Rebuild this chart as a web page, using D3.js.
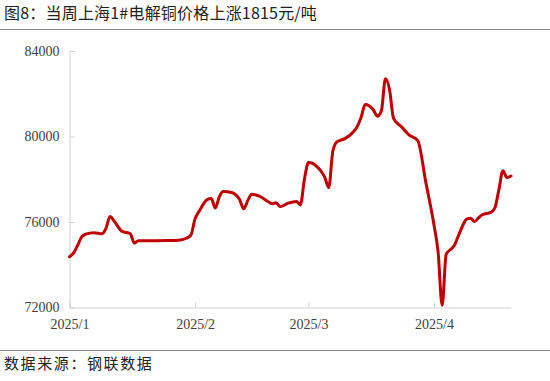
<!DOCTYPE html>
<html>
<head>
<meta charset="utf-8">
<script src="https://cdn.jsdelivr.net/npm/d3@7"></script>
<style>
  body { margin: 0; background: #fff; }
  svg { display: block; }
</style>
</head>
<body>
<svg width="550" height="381"></svg>
<script>
// 上海1#电解铜价格 (元/吨)
const dates = [
  '2025-01-01','2025-01-02','2025-01-03','2025-01-04','2025-01-05','2025-01-07','2025-01-09',
  '2025-01-10','2025-01-11','2025-01-12','2025-01-14','2025-01-15','2025-01-16','2025-01-17',
  '2025-01-18','2025-01-20','2025-01-25','2025-01-28','2025-01-30','2025-01-31','2025-02-01',
  '2025-02-02','2025-02-04','2025-02-05','2025-02-06','2025-02-07','2025-02-08','2025-02-10',
  '2025-02-12','2025-02-13','2025-02-14','2025-02-15','2025-02-17','2025-02-19','2025-02-20',
  '2025-02-21','2025-02-22','2025-02-24','2025-02-26','2025-02-27','2025-02-28','2025-03-01',
  '2025-03-02','2025-03-03','2025-03-04','2025-03-05','2025-03-06','2025-03-07','2025-03-08',
  '2025-03-10','2025-03-12','2025-03-13','2025-03-14','2025-03-15','2025-03-17','2025-03-18',
  '2025-03-19','2025-03-20','2025-03-21','2025-03-22','2025-03-24','2025-03-26','2025-03-27',
  '2025-03-28','2025-03-30','2025-04-01','2025-04-02','2025-04-03','2025-04-04','2025-04-05',
  '2025-04-06','2025-04-07','2025-04-08','2025-04-09','2025-04-10','2025-04-11','2025-04-12',
  '2025-04-13','2025-04-15','2025-04-16','2025-04-17','2025-04-18','2025-04-19','2025-04-20'
];
const prices = [
  74380, 74550, 74900, 75300, 75430, 75500, 75450,
  75700, 76260, 76050, 75560, 75510, 75450, 75010,
  75120, 75120, 75130, 75150, 75250, 75400, 76150,
  76500, 77050, 77100, 76650, 77190, 77430, 77380,
  77050, 76620, 77000, 77300, 77200, 76960, 76850,
  76900, 76720, 76880, 76960, 76800, 78000, 78780,
  78750, 78600, 78400, 78100, 77600, 79300, 79750,
  79900, 80200, 80450, 80900, 81500, 81250, 80950,
  81200, 82700, 82200, 80850, 80450, 80050, 79950,
  79800, 77830, 75850, 74600, 72100, 74500, 74700,
  74900, 75350, 75800, 76130, 76180, 76020, 76200,
  76350, 76450, 76650, 77500, 78400, 78080, 78150
];
const yTicks = [72000, 76000, 80000, 84000];
const xTicks = ['2025-01-01', '2025-02-01', '2025-03-01', '2025-04-01'];

const title = '图8：当周上海1#电解铜价格上涨1815元/吨';
const source = '数据来源：钢联数据';

const svg = d3.select('svg');
const width = +svg.attr('width');
const height = +svg.attr('height');

const parse = d3.timeParse('%Y-%m-%d');
const data = dates.map((d, i) => ({ date: parse(d), value: prices[i] }));

const x = d3.scaleTime()
  .domain([parse('2025-01-01'), parse('2025-04-20')])
  .range([69.5, 511]);

const y = d3.scaleLinear()
  .domain([72000, 84000])
  .range([307.5, 51]);

svg.append('rect').attr('width', width).attr('height', height).attr('fill', '#fff');

// title + rules
svg.append('text')
  .attr('x', 4).attr('y', 19)
  .attr('font-family', '"Noto Sans CJK SC", sans-serif')
  .attr('font-size', 16)
  .attr('letter-spacing', 0.2)
  .attr('fill', '#222')
  .text(title);

svg.append('line')
  .attr('x1', 0).attr('x2', width).attr('y1', 29.5).attr('y2', 29.5)
  .attr('stroke', '#8c8c8c').attr('stroke-width', 1);

svg.append('line')
  .attr('x1', 0).attr('x2', width).attr('y1', 350.5).attr('y2', 350.5)
  .attr('stroke', '#8c8c8c').attr('stroke-width', 1);

svg.append('text')
  .attr('x', 4).attr('y', 369)
  .attr('font-family', '"Noto Sans CJK SC", sans-serif')
  .attr('font-size', 15)
  .attr('letter-spacing', 1.6)
  .attr('fill', '#222')
  .text(source);

// axes
const yAxis = d3.axisLeft(y)
  .tickValues(yTicks)
  .tickSizeInner(-5)
  .tickSizeOuter(0)
  .tickPadding(10)
  .tickFormat(d3.format('d'));

const xAxis = d3.axisBottom(x)
  .tickValues(xTicks.map(parse))
  .tickSizeInner(-5)
  .tickSizeOuter(0)
  .tickPadding(12)
  .tickFormat(d3.timeFormat('%Y/%-m'));

const styleAxis = g => {
  g.select('.domain').attr('stroke', '#d0d0d0');
  g.selectAll('.tick line').attr('stroke', '#d0d0d0');
  g.selectAll('.tick text')
    .attr('font-family', '"Liberation Serif", "Times New Roman", serif')
    .attr('font-size', 14)
    .attr('fill', '#404040');
};

svg.append('g')
  .attr('transform', `translate(${x.range()[0]},0)`)
  .call(yAxis)
  .call(styleAxis);

svg.append('g')
  .attr('transform', `translate(0,${y.range()[0]})`)
  .call(xAxis)
  .call(styleAxis);

// line
const line = d3.line()
  .x(d => x(d.date))
  .y(d => y(d.value))
  .curve(d3.curveMonotoneX);

svg.append('path')
  .datum(data)
  .attr('fill', 'none')
  .attr('stroke', '#c00000')
  .attr('stroke-width', 3)
  .attr('stroke-linejoin', 'round')
  .attr('stroke-linecap', 'round')
  .attr('d', line);
</script>
</body>
</html>
